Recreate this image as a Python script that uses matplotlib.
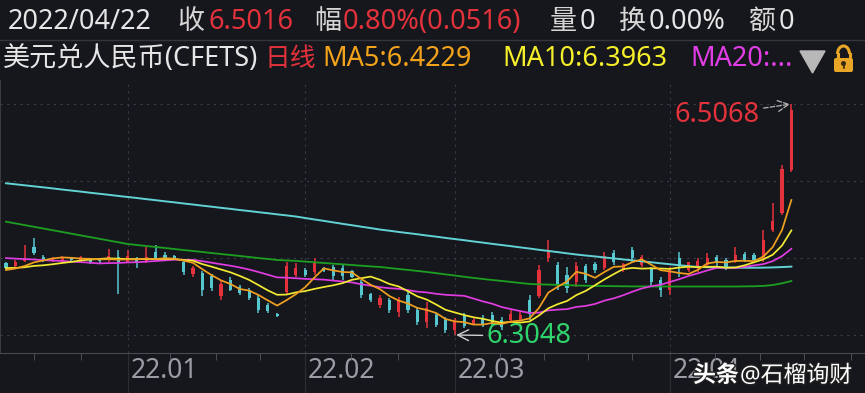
import numpy as np
import matplotlib.pyplot as plt
import matplotlib.patheffects as pe
from matplotlib.patches import Polygon, FancyBboxPatch, Arc, Circle
from matplotlib.transforms import ScaledTranslation

plt.rcParams['font.family'] = ['Noto Sans', 'Noto Sans CJK SC', 'DejaVu Sans']

# 美元兑人民币(CFETS) 日线, 2021-12 ~ 2022-04-22
opens = [6.3678, 6.3651, 6.3695, 6.3818, 6.3730, 6.3695, 6.3695, 6.3721, 6.3704, 6.3713,
         6.3713, 6.3704, 6.3730, 6.3686, 6.3721, 6.3686, 6.3774, 6.3748, 6.3739, 6.3686,
         6.3582, 6.3590, 6.3564, 6.3389, 6.3529, 6.3468, 6.3442, 6.3372, 6.3310, 6.3232,
         6.3424, 6.3573, 6.3616, 6.3599, 6.3634, 6.3643, 6.3634, 6.3608, 6.3512, 6.3407,
         6.3310, 6.3354, 6.3249, 6.3398, 6.3267, 6.3162, 6.3223, 6.3179, 6.3092, 6.3214,
         6.3144, 6.3197, 6.3223, 6.3179, 6.3179, 6.3188, 6.3354, 6.3389, 6.3721, 6.3660,
         6.3573, 6.3512, 6.3651, 6.3669, 6.3634, 6.3765, 6.3616, 6.3791, 6.3660, 6.3634,
         6.3529, 6.3442, 6.3721, 6.3616, 6.3634, 6.3660, 6.3730, 6.3704, 6.3686, 6.3756,
         6.3748, 6.3721, 6.3966, 6.4115, 6.4491]
highs = [6.3686, 6.3704, 6.3835, 6.3896, 6.3748, 6.3730, 6.3739, 6.3730, 6.3739, 6.3721,
         6.3721, 6.3800, 6.3791, 6.3791, 6.3730, 6.3818, 6.3835, 6.3774, 6.3748, 6.3695,
         6.3651, 6.3608, 6.3582, 6.3529, 6.3555, 6.3485, 6.3459, 6.3398, 6.3328, 6.3240,
         6.3686, 6.3678, 6.3634, 6.3721, 6.3643, 6.3660, 6.3660, 6.3616, 6.3529, 6.3415,
         6.3398, 6.3372, 6.3380, 6.3442, 6.3293, 6.3337, 6.3240, 6.3206, 6.3197, 6.3240,
         6.3197, 6.3223, 6.3249, 6.3206, 6.3267, 6.3249, 6.3398, 6.3660, 6.3879, 6.3686,
         6.3643, 6.3686, 6.3669, 6.3686, 6.3774, 6.3791, 6.3678, 6.3818, 6.3748, 6.3643,
         6.3555, 6.3643, 6.3774, 6.3686, 6.3721, 6.3765, 6.3748, 6.3721, 6.3818, 6.3774,
         6.3765, 6.3966, 6.4202, 6.4535, 6.5068]
lows = [6.3616, 6.3643, 6.3686, 6.3748, 6.3686, 6.3686, 6.3686, 6.3686, 6.3686, 6.3669,
        6.3669, 6.3686, 6.3407, 6.3686, 6.3634, 6.3678, 6.3704, 6.3704, 6.3704, 6.3573,
        6.3555, 6.3389, 6.3433, 6.3354, 6.3433, 6.3398, 6.3354, 6.3240, 6.3240, 6.3206,
        6.3398, 6.3555, 6.3555, 6.3573, 6.3599, 6.3529, 6.3529, 6.3547, 6.3372, 6.3337,
        6.3284, 6.3240, 6.3206, 6.3240, 6.3136, 6.3109, 6.3118, 6.3066, 6.3048, 6.3109,
        6.3136, 6.3118, 6.3136, 6.3092, 6.3162, 6.3179, 6.3179, 6.3372, 6.3686, 6.3442,
        6.3415, 6.3468, 6.3503, 6.3590, 6.3616, 6.3660, 6.3599, 6.3686, 6.3643, 6.3468,
        6.3380, 6.3398, 6.3555, 6.3599, 6.3599, 6.3643, 6.3643, 6.3616, 6.3678, 6.3686,
        6.3686, 6.3686, 6.3949, 6.4097, 6.4473]
closes = [6.3634, 6.3686, 6.3721, 6.3765, 6.3695, 6.3721, 6.3730, 6.3704, 6.3730, 6.3686,
          6.3695, 6.3739, 6.3686, 6.3739, 6.3686, 6.3730, 6.3721, 6.3721, 6.3721, 6.3599,
          6.3634, 6.3442, 6.3459, 6.3494, 6.3442, 6.3415, 6.3372, 6.3267, 6.3258, 6.3214,
          6.3651, 6.3634, 6.3573, 6.3686, 6.3608, 6.3564, 6.3564, 6.3555, 6.3398, 6.3354,
          6.3372, 6.3267, 6.3354, 6.3267, 6.3162, 6.3284, 6.3136, 6.3092, 6.3162, 6.3127,
          6.3179, 6.3136, 6.3162, 6.3118, 6.3232, 6.3223, 6.3232, 6.3616, 6.3791, 6.3485,
          6.3459, 6.3651, 6.3529, 6.3616, 6.3739, 6.3686, 6.3669, 6.3721, 6.3730, 6.3512,
          6.3442, 6.3616, 6.3651, 6.3686, 6.3695, 6.3721, 6.3678, 6.3634, 6.3748, 6.3704,
          6.3704, 6.3879, 6.4045, 6.4500, 6.5016]
# closes before the first visible day, only needed for MA5/10/20
prev_closes = [6.3790, 6.3805, 6.3830, 6.3815, 6.3800, 6.3790, 6.3820, 6.3810, 6.3805, 6.3815,
               6.3680, 6.3660, 6.3650, 6.3640, 6.3630, 6.3620, 6.3610, 6.3605, 6.3611]
# long moving averages (green / cyan), read per day
ma_green = [6.4039, 6.4024, 6.4009, 6.3994, 6.3979, 6.3964, 6.3949, 6.3934, 6.3919, 6.3904,
            6.3889, 6.3874, 6.3859, 6.3844, 6.3835, 6.3826, 6.3818, 6.3809, 6.3800, 6.3791,
            6.3783, 6.3774, 6.3765, 6.3756, 6.3748, 6.3739, 6.3730, 6.3721, 6.3713, 6.3704,
            6.3700, 6.3696, 6.3690, 6.3684, 6.3678, 6.3672, 6.3666, 6.3660, 6.3654, 6.3648,
            6.3643, 6.3634, 6.3625, 6.3617, 6.3608, 6.3599, 6.3589, 6.3578, 6.3568, 6.3557,
            6.3547, 6.3538, 6.3529, 6.3521, 6.3512, 6.3503, 6.3494, 6.3491, 6.3489, 6.3486,
            6.3484, 6.3481, 6.3479, 6.3477, 6.3476, 6.3475, 6.3474, 6.3473, 6.3473, 6.3472,
            6.3472, 6.3472, 6.3472, 6.3472, 6.3472, 6.3472, 6.3472, 6.3472, 6.3472, 6.3473,
            6.3474, 6.3477, 6.3485, 6.3500, 6.3520]
ma_cyan = [6.4375, 6.4366, 6.4357, 6.4348, 6.4339, 6.4330, 6.4320, 6.4311, 6.4302, 6.4292,
           6.4283, 6.4274, 6.4264, 6.4255, 6.4246, 6.4236, 6.4227, 6.4217, 6.4208, 6.4198,
           6.4189, 6.4179, 6.4170, 6.4160, 6.4151, 6.4141, 6.4132, 6.4122, 6.4113, 6.4103,
           6.4094, 6.4084, 6.4071, 6.4058, 6.4046, 6.4033, 6.4020, 6.4008, 6.3995, 6.3983,
           6.3970, 6.3960, 6.3949, 6.3939, 6.3929, 6.3918, 6.3908, 6.3897, 6.3887, 6.3877,
           6.3866, 6.3856, 6.3845, 6.3835, 6.3825, 6.3814, 6.3804, 6.3793, 6.3783, 6.3773,
           6.3762, 6.3752, 6.3743, 6.3735, 6.3726, 6.3718, 6.3709, 6.3701, 6.3692, 6.3684,
           6.3675, 6.3667, 6.3658, 6.3650, 6.3643, 6.3641, 6.3639, 6.3638, 6.3637, 6.3636,
           6.3636, 6.3637, 6.3639, 6.3642, 6.3646]

month_idx = [13, 32, 48, 71]
month_labels = ['22.01', '22.02', '22.03', '22.04']
week_idx = [3, 8, 17.5, 22.5, 27.2, 36.9, 41.9, 52.8, 57.5, 62.2, 67, 75.8, 80.6, 85.4, 90.4]

BG = '#16171c'
RED = '#e3323c'
CYAN = '#56c6cf'
WHITE = '#e6e6e6'

o = np.array(opens); h = np.array(highs); l = np.array(lows); c = np.array(closes)
n = len(c)
x = np.arange(n)
allc = np.array(prev_closes + closes)

def ma(k):
    return np.convolve(allc, np.ones(k) / k, mode='valid')[-n:]

fig = plt.figure(figsize=(8.65, 3.93), dpi=100)
fig.patch.set_facecolor(BG)

ax = fig.add_axes([0, 40 / 393, 1, 273 / 393])
ax.set_facecolor(BG)
ax.set_xlim(-6 / 9.35, 859 / 9.35)
hi, lo = h.max(), l.min()
span = hi - lo
ax.set_ylim(lo - span * 18 / 231, hi + span * 24 / 231)

for lev in np.linspace(lo, hi, 4):
    ax.axhline(lev, color='#3a3d45', lw=0.8, ls=(0, (2, 4)), zorder=0)
for i in month_idx:
    ax.axvline(i, color='#3a3d45', lw=0.8, ls=(0, (2, 4)), zorder=0)
    ax.axvline(i, ymin=-40 / 273, ymax=0, color='#2b2d33', lw=0.9, clip_on=False)

up = c >= o
cols = np.where(up, RED, CYAN)
ax.vlines(x, l, h, colors=cols, lw=1.1, zorder=2)
body_h = np.maximum(np.abs(c - o), span * 0.004)
ax.bar(x, body_h, bottom=np.minimum(o, c), width=0.34, color=cols, zorder=2)

ax.plot(x, ma_cyan, color='#62d2d4', lw=1.4, zorder=3)
ax.plot(x, ma_green, color='#1d9f22', lw=1.3, zorder=3)
ax.plot(x, ma(20), color='#e03ce2', lw=1.25, zorder=4)
ax.plot(x, ma(10), color='#f2ea32', lw=1.25, zorder=4)
ax.plot(x, ma(5), color='#f0a020', lw=1.25, zorder=4)

ax.annotate(f'{hi:.4f}', xy=(n - 1, hi), xytext=(-32, -11), textcoords='offset pixels',
            ha='right', va='center', color=RED, fontsize=19.5,
            arrowprops=dict(arrowstyle='->', color='#b5b5b5', lw=0.9, ls='--',
                            shrinkA=1, shrinkB=1))
ax.annotate(f'{lo:.4f}', xy=(int(l.argmin()), lo), xytext=(32, -1), textcoords='offset pixels',
            ha='left', va='center', color='#2fd46c', fontsize=19.5,
            arrowprops=dict(arrowstyle='->', color='#d0d0d0', lw=1.0, shrinkA=1, shrinkB=1))

for s in ['top', 'right']:
    ax.spines[s].set_visible(False)
ax.spines['left'].set_color('#3a3a3e')
ax.spines['bottom'].set_color('#4a4b50')
ax.set_yticks([])
ax.set_xticks(month_idx, month_labels)
ax.set_xticks(week_idx, minor=True)
ax.tick_params(axis='x', which='major', length=0, labelcolor='#9c9ca4', labelsize=19, pad=3)
ax.tick_params(axis='x', which='minor', length=5, color='#55575c', direction='out')
for lbl in ax.get_xticklabels():
    lbl.set_horizontalalignment('left')
    lbl.set_transform(lbl.get_transform() + ScaledTranslation(3 / 100, 0, fig.dpi_scale_trans))

# header rows and watermark in pixel coordinates
ov = fig.add_axes([0, 0, 1, 1], zorder=5)
ov.set_xlim(0, 865)
ov.set_ylim(393, 0)
ov.axis('off')
ov.patch.set_alpha(0)
ov.plot([0, 865], [40, 40], color='#34363c', lw=1)

def put(px, py, s, color, size=19.5, **kw):
    ov.text(px, py, s, color=color, fontsize=size, ha='left', va='baseline', **kw)

put(8, 29, '2022/04/22', WHITE)
put(177, 29, '收', '#d6d6d6')
put(208, 29, '6.5016', RED)
put(314, 29, '幅', '#d6d6d6')
put(343, 29, '0.80%(0.0516)', RED)
put(550, 29, '量', '#d6d6d6')
put(580, 29, '0', WHITE)
put(619, 29, '换', '#d6d6d6')
put(649, 29, '0.00%', WHITE)
put(749, 29, '额', '#d6d6d6')
put(779, 29, '0', WHITE)

put(3, 66, '美元兑人民币(CFETS)', WHITE)
put(264, 66, '日线', RED, size=18.5)
put(322, 66, 'MA5:6.4229', '#f2a31b')
put(502, 66, 'MA10:6.3963', '#f5ee2a')
put(690, 66, 'MA20:...', '#e13ee6')

ov.add_patch(Polygon([(800, 51), (825, 51), (812.5, 73)], closed=True, color='#b8b8b8'))
gold = '#e8a526'
ov.add_patch(Arc((843.5, 54), 12, 16, theta1=180, theta2=360, color=gold, lw=2.2))
ov.plot([837.5, 837.5], [54, 59], color=gold, lw=2.2)
ov.plot([849.5, 849.5], [54, 59], color=gold, lw=2.2)
ov.add_patch(FancyBboxPatch((834, 58), 19, 14, boxstyle='round,pad=0,rounding_size=2',
                            fc=gold, ec='none'))
ov.add_patch(Circle((843.5, 63.5), 1.8, color='#3a2a10'))
ov.plot([843.5, 843.5], [64, 68], color='#3a2a10', lw=1.2)

# watermark sits over the 22.04 label, as in the source screenshot
shadow = [pe.withStroke(linewidth=2, foreground='#202020')]
put(693, 382, '头条', 'white', size=16.5, weight='bold', path_effects=shadow)
put(740, 382, '@石榴询财', 'white', size=16.5, path_effects=shadow)

fig.savefig('out.png', dpi=100, facecolor=BG)
